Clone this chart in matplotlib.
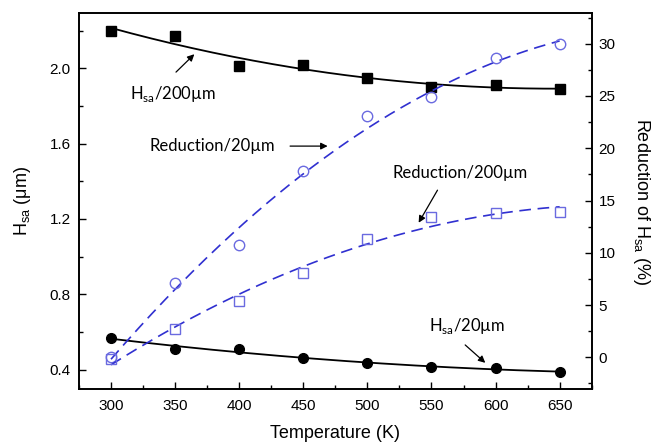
import numpy as np
import matplotlib.pyplot as plt
from matplotlib.ticker import MultipleLocator

plt.rcParams['font.family'] = ['Liberation Sans', 'DejaVu Sans']

temp = [300, 350, 400, 450, 500, 550, 600, 650]
hsa_200 = [2.20, 2.17, 2.01, 2.02, 1.95, 1.90, 1.91, 1.89]
hsa_20 = [0.569, 0.51, 0.508, 0.459, 0.434, 0.414, 0.409, 0.386]
red_20 = [0.0, 7.1, 10.7, 17.8, 23.1, 24.9, 28.6, 30.0]
red_200 = [-0.2, 2.7, 5.4, 8.1, 11.3, 13.4, 13.8, 13.9]

blue = '#3030d0'
mblue = '#6a6ae0'

fig = plt.figure(figsize=(6.57, 4.43), dpi=100)
ax = fig.add_axes([0.1202, 0.1219, 0.7804, 0.8488])
ax2 = ax.twinx()

t = np.asarray(temp, dtype=float)
tt = np.linspace(300, 650, 200)

def fit(y, deg=2):
    return np.polyval(np.polyfit(t, y, deg), tt)

ax.plot(tt, fit(hsa_200), color='black', lw=1.3)
ax.plot(t, hsa_200, 's', color='black', ms=6.5)
ax.plot(tt, fit(hsa_20), color='black', lw=1.3)
ax.plot(t, hsa_20, 'o', color='black', ms=7)

ax2.plot(tt, fit(red_20), color=blue, lw=1.2, dashes=(7, 4))
ax2.plot(t, red_20, 'o', mfc='none', mec=mblue, ms=7.5, mew=1)
ax2.plot(tt, fit(red_200), color=blue, lw=1.2, dashes=(7, 4))
ax2.plot(t, red_200, 's', mfc='none', mec=mblue, ms=7, mew=1)

ax.set_xlim(275, 675)
ax.set_ylim(0.297, 2.294)
ax2.set_ylim(-3.03, 32.94)

ax.xaxis.set_major_locator(MultipleLocator(50))
ax.xaxis.set_minor_locator(MultipleLocator(25))
ax.yaxis.set_major_locator(MultipleLocator(0.4))
ax.yaxis.set_minor_locator(MultipleLocator(0.2))
ax2.yaxis.set_major_locator(MultipleLocator(5))
ax2.yaxis.set_minor_locator(MultipleLocator(2.5))
ax.yaxis.set_major_formatter(plt.FormatStrFormatter('%.1f'))

for a in (ax, ax2):
    a.tick_params(which='major', direction='in', length=5, width=1, labelsize=11)
    a.tick_params(which='minor', direction='in', length=3, width=1)
    for s in a.spines.values():
        s.set_linewidth(1.2)
ax.tick_params(top=False, right=False, which='both')
ax.tick_params(axis='x', pad=7)
ax.tick_params(axis='y', pad=6)
ax2.tick_params(axis='y', pad=5)

ax.set_xlabel('Temperature (K)', fontsize=13, labelpad=9)
ax.set_ylabel(r'H$_{\mathregular{sa}}$ ($\mathregular{\mu}$m)', fontsize=13, labelpad=12)
ax2.set_ylabel(r'Reduction of H$_{\mathregular{sa}}$ (%)', fontsize=13,
               rotation=270, labelpad=26)

afont = dict(fontsize=12, family=['Lato', 'DejaVu Sans'], ha='center', va='center')
ap = dict(arrowstyle='-|>', color='black', lw=0.9, mutation_scale=10,
          shrinkA=0, shrinkB=0)

ax.text(348, 1.863, r'H$_{\mathregular{sa}}$/200µm', **afont)
ax.annotate('', xy=(365, 2.075), xytext=(350.7, 1.98), arrowprops=ap)

ax.text(379, 1.587, 'Reduction/20µm', **afont)
ax.annotate('', xy=(469, 1.587), xytext=(439.7, 1.587), arrowprops=ap)

ax.text(572, 1.443, 'Reduction/200µm', **afont)
ax.annotate('', xy=(540, 1.18), xytext=(554.7, 1.353), arrowprops=ap)

ax.text(578, 0.629, r'H$_{\mathregular{sa}}$/20µm', **afont)
ax.annotate('', xy=(592, 0.436), xytext=(576.3, 0.531), arrowprops=ap)

fig.savefig('out.png', dpi=100)
